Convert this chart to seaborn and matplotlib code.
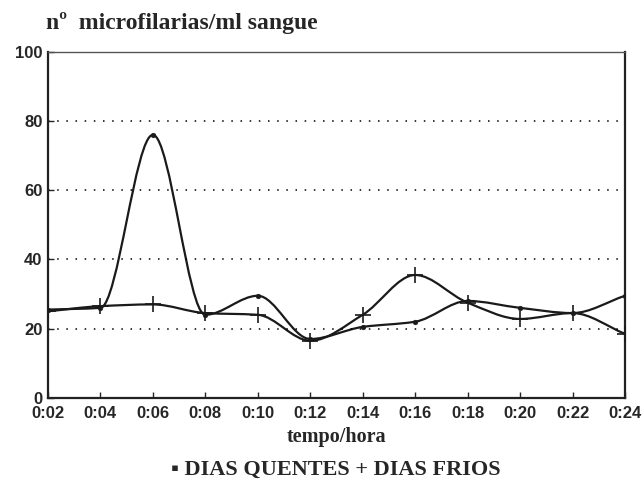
import numpy as np
import pandas as pd
import matplotlib
matplotlib.use("Agg")
import matplotlib.pyplot as plt
import seaborn as sns
from matplotlib.path import Path
from matplotlib.patches import PathPatch

# dados
horas = ['0:02', '0:04', '0:06', '0:08', '0:10', '0:12',
         '0:14', '0:16', '0:18', '0:20', '0:22', '0:24']
dias_quentes = [25.5, 26, 76, 24, 29.5, 17, 20.5, 22, 28, 26, 24.5, 29.5]
dias_frios = [25, 26.5, 27, 24.5, 24, 16.5, 24, 35.5, 27.5, 22.8, 24.5, 18.5]

sns.set_style("ticks")
plt.rcParams['font.family'] = ['Liberation Sans', 'DejaVu Sans']
serif = ['Liberation Serif', 'DejaVu Sans']

df = pd.DataFrame({'pos': np.arange(len(horas)),
                   'quentes': dias_quentes,
                   'frios': dias_frios})


def curva_suave(ax, x, y, cor='#1a1a1a', lw=1.6):
    # curva de Bezier (tangentes tipo pchip) que passa pelos pontos
    x = np.asarray(x, float)
    y = np.asarray(y, float)
    d = np.diff(y) / np.diff(x)
    m = np.zeros_like(y)
    m[0], m[-1] = d[0], d[-1]
    for k in range(1, len(y) - 1):
        if d[k - 1] * d[k] > 0:
            m[k] = 2 / (1 / d[k - 1] + 1 / d[k])
    verts = [(x[0], y[0])]
    codes = [Path.MOVETO]
    for k in range(len(x) - 1):
        h = x[k + 1] - x[k]
        verts += [(x[k] + h / 3, y[k] + m[k] * h / 3),
                  (x[k + 1] - h / 3, y[k + 1] - m[k + 1] * h / 3),
                  (x[k + 1], y[k + 1])]
        codes += [Path.CURVE4] * 3
    ax.add_patch(PathPatch(Path(verts, codes), fill=False, edgecolor=cor, lw=lw))


fig = plt.figure(figsize=(6.44, 4.84), dpi=100)
ax = fig.add_axes([0.0745, 0.178, 0.896, 0.715])

curva_suave(ax, df['pos'], df['quentes'])
curva_suave(ax, df['pos'], df['frios'])
sns.scatterplot(data=df, x='pos', y='quentes', ax=ax, marker='o', s=12,
                color='#1a1a1a', edgecolor='#1a1a1a', zorder=3)
sns.scatterplot(data=df, x='pos', y='frios', ax=ax, marker='+', s=120,
                color='#1a1a1a', linewidth=1.2, zorder=3)

ax.set_xlim(0, len(horas) - 1)
ax.set_ylim(0, 100)
ax.set_xticks(df['pos'])
ax.set_xticklabels(horas, fontsize=12, fontweight='bold')
ax.set_yticks([0, 20, 40, 60, 80, 100])
ax.set_yticklabels(['0', '20', '40', '60', '80', '100'], fontsize=12, fontweight='bold')
ax.tick_params(direction='in', length=4, width=1)
ax.tick_params(axis='x', pad=6)
ax.tick_params(axis='y', pad=4)
ax.set_xlabel('')
ax.set_ylabel('')

for v in [20, 40, 60, 80]:
    ax.axhline(v, color='black', lw=1.1, ls=(0, (1, 5)), zorder=1)

for side in ['left', 'bottom', 'right']:
    ax.spines[side].set_visible(True)
    ax.spines[side].set_linewidth(1.6)
    ax.spines[side].set_color('#222222')
ax.spines['top'].set_visible(True)
ax.spines['top'].set_linewidth(1.0)
ax.spines['top'].set_color('#555555')

fig.text(0.072, 0.953, 'nº  microfilarias/ml sangue', family=serif,
         fontsize=17, fontweight='bold', ha='left', va='center')
fig.text(0.522, 0.097, 'tempo/hora', family=serif, fontsize=14.5,
         fontweight='bold', ha='center', va='center')
fig.text(0.522, 0.030, '▪ DIAS QUENTES + DIAS FRIOS', family=serif,
         fontsize=16, fontweight='bold', ha='center', va='center')

fig.savefig('out.png', dpi=100)
